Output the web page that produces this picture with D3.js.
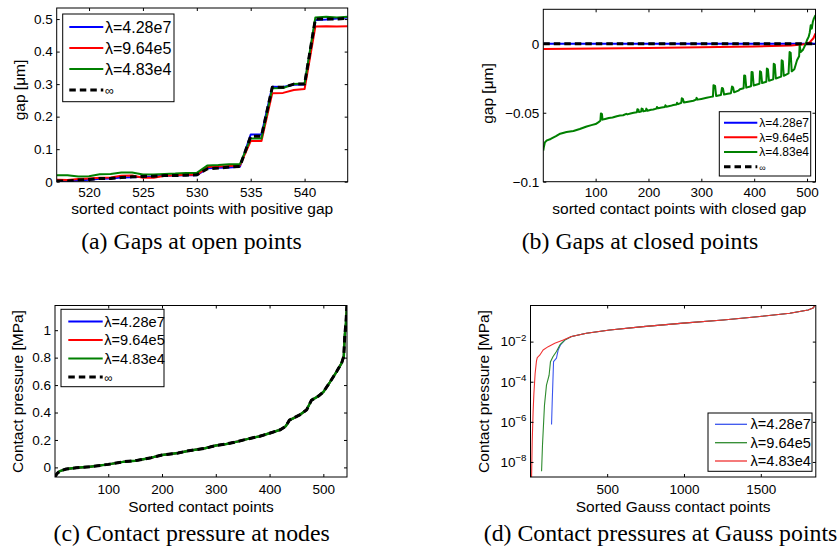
<!DOCTYPE html>
<html><head><meta charset="utf-8">
<script src="https://cdn.jsdelivr.net/npm/d3@7"></script>
<style>
body{margin:0;background:#fff;}
svg{display:block;}
text{font-family:"Liberation Sans",Arial,Helvetica,sans-serif;fill:#000;}
.cap{font-family:"Liberation Serif","Times New Roman",serif;}
</style></head><body>
<svg id="chart" width="837" height="551"></svg>
<script>
// ---------- labels ----------
const lambdaLabels = ["λ=4.28e7", "λ=9.64e5", "λ=4.83e4"];
const infLabel = "∞";
const captions = ["(a) Gaps at open points", "(b) Gaps at closed points",
                  "(c) Contact pressure at nodes", "(d) Contact pressures at Gauss points"];
const xLabels = ["sorted contact points with positive gap", "sorted contact points with closed gap",
                 "Sorted contact points", "Sorted Gauss contact points"];
const yLabels = ["gap [μm]", "gap [μm]", "Contact pressure [MPa]", "Contact pressure [MPa]"];

// ---------- (a) gaps at open points ----------
const openIdx = [517,518,519,520,521,522,523,524,525,526,527,528,529,530,531,532,533,534,535,536,537,538,539,540,541,542,543,544];
const openGapBlue  = [0.001,0.001,0.004,0.006,0.009,0.010,0.013,0.014,0.015,0.016,0.018,0.019,0.020,0.020,0.041,0.043,0.044,0.046,0.145,0.145,0.292,0.291,0.298,0.299,0.497,0.499,0.502,0.505];
const openGapRed   = [0.006,0.005,0.008,0.010,0.012,0.013,0.018,0.019,0.012,0.012,0.018,0.020,0.021,0.021,0.045,0.047,0.048,0.050,0.125,0.125,0.272,0.273,0.282,0.285,0.477,0.478,0.477,0.478];
const openGapGreen = [0.020,0.020,0.016,0.017,0.023,0.024,0.028,0.028,0.022,0.022,0.024,0.025,0.027,0.027,0.050,0.051,0.054,0.054,0.133,0.133,0.287,0.288,0.300,0.302,0.505,0.507,0.505,0.507];
const openGapInf   = [0.002,0.002,0.005,0.007,0.010,0.010,0.013,0.015,0.016,0.017,0.019,0.019,0.020,0.021,0.040,0.042,0.045,0.047,0.140,0.140,0.290,0.290,0.300,0.300,0.500,0.500,0.500,0.503];

// ---------- (b) gaps at closed points: [point index, gap] ----------
const closedGapBlue = [[1,0],[516,0]];
const closedGapInf  = [[1,0],[516,0]];
const closedGapRed  = [[1,-0.0038],[100,-0.0034],[200,-0.0030],[300,-0.0026],[400,-0.0019],[470,-0.0012],[495,-0.0003],[505,0.001],[512,0.004],[516,0.0075]];
const closedGapGreen = [[1,-0.0775],[2,-0.075],[4,-0.0715],[8,-0.0700],[15,-0.0690],[25,-0.0670],[33,-0.0652],[45,-0.0640],[58,-0.0632],[70,-0.0618],[83,-0.0600],[92,-0.0590],[100,-0.0582],[105,-0.0570],[109,-0.0558],[110,-0.0505],[112,-0.0510],[113,-0.0550],[118,-0.0545],[125,-0.0538],[132,-0.0535],[140,-0.0525],[146,-0.0520],[152,-0.0518],[158,-0.0508],[160,-0.0512],[166,-0.0505],[172,-0.0500],[178,-0.0497],[179,-0.0475],[181,-0.0478],[182,-0.0495],[186,-0.0492],[187,-0.0470],[189,-0.0472],[190,-0.0490],[195,-0.0486],[196,-0.0470],[198,-0.0485],[205,-0.0478],[209,-0.0476],[215,-0.0470],[216,-0.0458],[218,-0.0468],[225,-0.0462],[231,-0.0458],[232,-0.0446],[234,-0.0456],[242,-0.0450],[247,-0.0444],[253,-0.0440],[254,-0.0428],[256,-0.0438],[262,-0.0428],[263,-0.0395],[265,-0.0400],[267,-0.0425],[275,-0.0420],[285,-0.0413],[290,-0.0405],[291,-0.0392],[293,-0.0405],[300,-0.0400],[310,-0.0392],[318,-0.0385],[322,-0.0382],[323,-0.0300],[326,-0.0305],[328,-0.0378],[337,-0.0372],[339,-0.0320],[341,-0.0325],[343,-0.0368],[350,-0.0362],[356,-0.0358],[358,-0.0310],[360,-0.0315],[362,-0.0352],[370,-0.0340],[373,-0.0330],[380,-0.0322],[381,-0.0230],[383,-0.0232],[385,-0.0318],[394,-0.0308],[395,-0.0205],[397,-0.0207],[399,-0.0302],[410,-0.0290],[411,-0.0200],[413,-0.0205],[415,-0.0285],[423,-0.0275],[424,-0.0180],[426,-0.0185],[428,-0.0268],[436,-0.0258],[437,-0.0145],[439,-0.0150],[441,-0.0252],[451,-0.0238],[452,-0.0120],[454,-0.0125],[456,-0.0232],[465,-0.0215],[467,-0.0060],[469,-0.0065],[471,-0.0200],[476,-0.0185],[481,-0.0120],[485,-0.0090],[486,-0.0010],[488,-0.0060],[492,-0.0045],[494,-0.0030],[497,-0.0005],[500,0.0027],[503,0.0050],[505,0.0080],[507,0.0135],[509,0.0110],[511,0.0160],[513,0.0184],[516,0.0208]];

// ---------- (c) contact pressure at nodes ----------
const nodeIdx      = [1,5,10,22,41,66,100,130,150,180,200,230,250,280,300,320,340,360,380,400,420,430,437,445,457,469,478,491,500,512,525,534,538,540,542,544];
const nodePressure = [-0.068,-0.044,-0.027,-0.012,-0.002,0.005,0.022,0.042,0.049,0.071,0.090,0.105,0.122,0.139,0.159,0.171,0.188,0.208,0.225,0.249,0.274,0.300,0.345,0.360,0.385,0.420,0.490,0.520,0.550,0.620,0.700,0.760,0.810,0.970,1.050,1.190];

// ---------- (d) contact pressures at Gauss points: [point index, pressure] ----------
const gaussRed   = [[8,1.6e-9],[12,1e-7],[18,3.2e-6],[23,2.5e-5],[31,2.5e-4],[40,1.1e-3],[45,1.6e-3],[61,2.1e-3],[83,3.8e-3],[116,5.6e-3],[159,8.3e-3],[214,0.012],[268,0.018],[365,0.026],[517,0.038],[734,0.056],[995,0.083],[1255,0.12],[1494,0.18],[1689,0.26],[1808,0.38],[1840,0.47],[1852,0.63]];
const gaussGreen = [[73,3.4e-9],[79,6.8e-8],[92,6.8e-6],[105,6.8e-5],[122,2.1e-4],[131,1e-3],[148,1.8e-3],[170,3.2e-3],[192,6.8e-3],[224,0.012],[268,0.018],[365,0.026],[517,0.038],[734,0.056],[995,0.083],[1255,0.12],[1494,0.18],[1689,0.26],[1808,0.38],[1840,0.47],[1852,0.63]];
const gaussBlue  = [[138,7.4e-7],[142,8.3e-6],[151,1e-3],[170,1.5e-3],[181,3.8e-3],[196,6.8e-3],[224,0.012],[268,0.018],[365,0.026],[517,0.038],[734,0.056],[995,0.083],[1255,0.12],[1494,0.18],[1689,0.26],[1808,0.38],[1840,0.47],[1852,0.63]];

// ---------- ticks ----------
const ticksAx = [520,525,530,535,540], ticksAy = [0,0.1,0.2,0.3,0.4,0.5];
const ticksBx = [100,200,300,400,500], ticksBy = [-0.1,-0.05,0];
const ticksCx = [100,200,300,400,500], ticksCy = [0,0.2,0.4,0.6,0.8,1];
const ticksDx = [500,1000,1500],       ticksDy = [1e-8,1e-6,1e-4,1e-2];

const BLUE = "#0000ff", RED = "#ff0000", GREEN = "#008000", BLACK = "#000";
const svg = d3.select("#chart");
const fmtNum = d => d === 0 ? "0" : String(d).replace("-", "\u2212");
const TICK_FONT = 13.5, LABEL_FONT = 15.5;

function drawPanel(p) {
  const x = d3.scaleLinear().domain(p.xDomain).range([p.L, p.R]);
  const y = (p.log ? d3.scaleLog() : d3.scaleLinear()).domain(p.yDomain).range([p.B, p.T]);
  const cid = "clip" + p.key;
  svg.append("clipPath").attr("id", cid).append("rect")
    .attr("x", p.L).attr("y", p.T).attr("width", p.R - p.L).attr("height", p.B - p.T);
  const g = svg.append("g");
  const plot = g.append("g").attr("clip-path", `url(#${cid})`);
  const line = d3.line().x(d => x(d[0])).y(d => y(d[1]));
  p.series.forEach(s => {
    plot.append("path").datum(s.data)
      .attr("fill", "none").attr("stroke", s.color).attr("stroke-width", s.width)
      .attr("stroke-dasharray", s.dash || null).attr("stroke-linejoin", "round")
      .attr("d", line);
  });
  const axB = g.append("g").attr("transform", `translate(0,${p.B})`)
    .call(d3.axisBottom(x).tickValues(p.xTicks).tickSize(-3).tickPadding(p.xPad).tickFormat(d => String(d)));
  const axT = g.append("g").attr("transform", `translate(0,${p.T})`)
    .call(d3.axisTop(x).tickValues(p.xTicks).tickSize(-3).tickFormat(""));
  const axL = g.append("g").attr("transform", `translate(${p.L},0)`)
    .call(d3.axisLeft(y).tickValues(p.yTicks).tickSize(-3).tickPadding(4).tickFormat(p.log ? () => "" : fmtNum));
  const axR = g.append("g").attr("transform", `translate(${p.R},0)`)
    .call(d3.axisRight(y).tickValues(p.yTicks).tickSize(-3).tickFormat(""));
  [axB, axT, axL, axR].forEach(a => {
    a.select(".domain").remove();
    a.attr("font-family", null).attr("font-size", TICK_FONT);
    a.selectAll(".tick line").attr("stroke", "#000");
  });
  if (p.log) {
    axL.selectAll(".tick text").each(function(d) {
      const t = d3.select(this).text("");
      t.append("tspan").text("10");
      t.append("tspan").attr("dy", "-0.55em").attr("font-size", TICK_FONT * 0.72)
        .text("\u2212" + Math.round(-Math.log10(d)));
    });
  }
  g.append("rect").attr("x", p.L).attr("y", p.T).attr("width", p.R - p.L).attr("height", p.B - p.T)
    .attr("fill", "none").attr("stroke", "#000").attr("stroke-width", 1);
  // axis labels
  g.append("text").attr("x", (p.L + p.R) / 2).attr("y", p.xLabelY).attr("text-anchor", "middle")
    .attr("font-size", LABEL_FONT).text(p.xLabel);
  g.append("text").attr("transform", `translate(${p.yLabelX},${p.yLabelC}) rotate(-90)`)
    .attr("text-anchor", "middle").attr("font-size", LABEL_FONT).text(p.yLabel);
  // caption
  g.append("text").attr("class", "cap").attr("x", p.capX).attr("y", p.capY)
    .attr("text-anchor", "middle").attr("font-size", 23.8).text(p.caption);
  // legend
  const lg = p.legend;
  const lgG = g.append("g");
  lgG.append("rect").attr("x", lg.x0).attr("y", lg.y0).attr("width", lg.x1 - lg.x0).attr("height", lg.y1 - lg.y0)
    .attr("fill", "#fff").attr("stroke", "#000").attr("stroke-width", 1);
  lg.items.forEach((it, i) => {
    const yy = lg.rows[i];
    lgG.append("line").attr("x1", lg.lx0).attr("x2", lg.lx1).attr("y1", yy).attr("y2", yy)
      .attr("stroke", it.color).attr("stroke-width", it.width).attr("stroke-dasharray", it.dash || null);
    const small = it.label === infLabel;
    lgG.append("text").attr("x", lg.tx).attr("y", yy)
      .attr("dy", small ? "0.42em" : "0.35em")
      .attr("font-size", small ? lg.font * 0.78 : lg.font).text(it.label);
  });
}

const legItems4 = w => [
  {label: lambdaLabels[0], color: BLUE, width: w},
  {label: lambdaLabels[1], color: RED, width: w},
  {label: lambdaLabels[2], color: GREEN, width: w},
  {label: infLabel, color: BLACK, width: 3, dash: "6.5,4"}
];

// (a)
drawPanel({
  key: "a", L: 56.7, R: 347.7, T: 8, B: 181.7,
  xDomain: [517, 544], yDomain: [0, 0.534],
  xTicks: ticksAx, yTicks: ticksAy, xPad: 5.5,
  series: [
    {data: openIdx.map((v, i) => [v, openGapBlue[i]]), color: BLUE, width: 2},
    {data: openIdx.map((v, i) => [v, openGapRed[i]]), color: RED, width: 2},
    {data: openIdx.map((v, i) => [v, openGapGreen[i]]), color: GREEN, width: 2},
    {data: openIdx.map((v, i) => [v, openGapInf[i]]), color: BLACK, width: 3, dash: "6.5,4"}
  ],
  xLabel: xLabels[0], xLabelY: 214, yLabel: yLabels[0], yLabelX: 25, yLabelC: 90,
  caption: captions[0], capX: 191.5, capY: 248.5,
  legend: {x0: 62.7, x1: 174, y0: 14, y1: 101.7, rows: [27, 48, 69, 90], lx0: 69.3, lx1: 103.3, tx: 105, font: 16, items: legItems4(2)}
});

// (b)
drawPanel({
  key: "b", L: 543.3, R: 815.5, T: 9.3, B: 181.7,
  xDomain: [1, 516], yDomain: [-0.1, 0.025],
  xTicks: ticksBx, yTicks: ticksBy, xPad: 5.5,
  series: [
    {data: closedGapBlue, color: BLUE, width: 2},
    {data: closedGapRed, color: RED, width: 2},
    {data: closedGapGreen, color: GREEN, width: 2},
    {data: closedGapInf, color: BLACK, width: 3, dash: "6.5,4"}
  ],
  xLabel: xLabels[1], xLabelY: 214, yLabel: yLabels[1], yLabelX: 493, yLabelC: 93.5,
  caption: captions[1], capX: 640, capY: 248.5,
  legend: {x0: 719.3, x1: 810.7, y0: 111.7, y1: 176, rows: [122.7, 137.3, 152, 166.7], lx0: 724, lx1: 757.3, tx: 759.3, font: 12, items: legItems4(2)}
});

// (c)
drawPanel({
  key: "c", L: 55, R: 347, T: 305.5, B: 477,
  xDomain: [1, 544], yDomain: [-0.07, 1.18],
  xTicks: ticksCx, yTicks: ticksCy, xPad: 7.5,
  series: [
    {data: nodeIdx.map((v, i) => [v, nodePressure[i]]), color: BLUE, width: 2},
    {data: nodeIdx.map((v, i) => [v, nodePressure[i]]), color: RED, width: 2},
    {data: nodeIdx.map((v, i) => [v, nodePressure[i]]), color: GREEN, width: 2.5},
    {data: nodeIdx.map((v, i) => [v, nodePressure[i]]), color: BLACK, width: 3, dash: "6.5,4"}
  ],
  xLabel: xLabels[2], xLabelY: 511.5, yLabel: yLabels[2], yLabelX: 23, yLabelC: 391.5,
  caption: captions[2], capX: 191.7, capY: 540.5,
  legend: {x0: 61, x1: 164, y0: 309.3, y1: 386.7, rows: [321.5, 340, 358.5, 377], lx0: 68.3, lx1: 102.7, tx: 104.3, font: 14.6, items: legItems4(2)}
});

// (d)
const GB = "#3a55ee", GG = "#2e8b2e", GR = "#f03232";
drawPanel({
  key: "d", L: 530.5, R: 815.8, T: 305.5, B: 477, log: true,
  xDomain: [1, 1858], yDomain: [Math.pow(10, -8.75), Math.pow(10, -0.2)],
  xTicks: ticksDx, yTicks: ticksDy, xPad: 7.5,
  series: [
    {data: gaussBlue, color: GB, width: 1.1},
    {data: gaussGreen, color: GG, width: 1.1},
    {data: gaussRed, color: GR, width: 1.1}
  ],
  xLabel: xLabels[3], xLabelY: 511.5, yLabel: yLabels[3], yLabelX: 489, yLabelC: 391.5,
  caption: captions[3], capX: 660.5, capY: 540.5,
  legend: {x0: 708, x1: 812, y0: 413, y1: 471.3, rows: [424.3, 442.7, 461], lx0: 715, lx1: 747, tx: 750.5, font: 14.6,
    items: [
      {label: lambdaLabels[0], color: GB, width: 1.3},
      {label: lambdaLabels[1], color: GG, width: 1.3},
      {label: lambdaLabels[2], color: GR, width: 1.3}
    ]}
});
</script>
</body></html>
